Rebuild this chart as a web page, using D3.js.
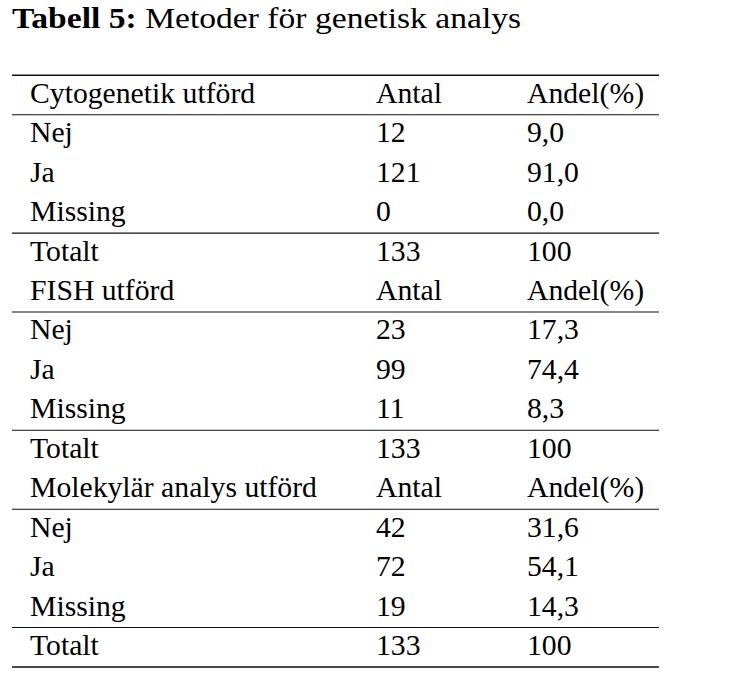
<!DOCTYPE html>
<html><head><meta charset="utf-8">
<script src="https://cdn.jsdelivr.net/npm/d3@7"></script>
<style>body{margin:0;background:#fff}</style>
</head><body>
<svg id="c" width="744" height="688"></svg>
<script>
const titleBold = "Tabell 5:";
const titleText = "Metoder för genetisk analys";
const sections = ["Cytogenetik utförd", "FISH utförd", "Molekylär analys utförd"];
const colHeaders = ["Antal", "Andel(%)"];
const categories = ["Nej", "Ja", "Missing", "Totalt"];
const counts = [[12, 121, 0, 133], [23, 99, 11, 133], [42, 72, 19, 133]];
const shares = [["9,0", "91,0", "0,0", "100"], ["17,3", "74,4", "8,3", "100"], ["31,6", "54,1", "14,3", "100"]];

const svg = d3.select("#c");
const font = "'Liberation Serif', 'DejaVu Serif', serif";
const sx = 0.99;
const tsx = 1.12;

const nRows = sections.length * (categories.length + 1);
const y = d3.scaleLinear().domain([0, nRows]).range([75.3, 667]);
const x = d3.scaleOrdinal().domain(["label", "count", "share"]).range([30, 376, 527]);
const lineX = [12, 659];

// title
const t = svg.append("text").attr("x", 12).attr("y", 28.5)
  .attr("font-family", font).attr("font-size", 30).attr("fill", "#000")
  .attr("transform", `translate(12,0) scale(${tsx},1) translate(-12,0)`);
t.append("tspan").attr("font-weight", "bold").text(titleBold + " ");
t.append("tspan").text(titleText);

const rows = [];
sections.forEach((s, si) => {
  rows.push({label: s, count: colHeaders[0], share: colHeaders[1], header: true});
  categories.forEach((c, ci) => rows.push({label: c, count: String(counts[si][ci]), share: shares[si][ci]}));
});

function addText(xx, yy, str) {
  svg.append("text").attr("x", xx).attr("y", yy)
    .attr("font-family", font).attr("font-size", 30).attr("fill", "#000")
    .attr("transform", `translate(${xx},0) scale(${sx},1) translate(${-xx},0)`)
    .text(str);
}
rows.forEach((r, i) => {
  const by = y(i) + 27.5;
  ["label", "count", "share"].forEach(k => addText(x(k), by, r[k]));
});

// rules
const ruleIdx = [0];
sections.forEach((s, si) => {
  const base = si * (categories.length + 1);
  ruleIdx.push(base + 1, base + categories.length);
});
ruleIdx.push(nRows);
ruleIdx.forEach(i => {
  const thick = (i === 0 || i === nRows);
  svg.append("line").attr("x1", lineX[0]).attr("x2", lineX[1])
    .attr("y1", y(i)).attr("y2", y(i))
    .attr("stroke", "#111").attr("stroke-width", thick ? 1.6 : 1.1);
});
</script>
</body></html>
